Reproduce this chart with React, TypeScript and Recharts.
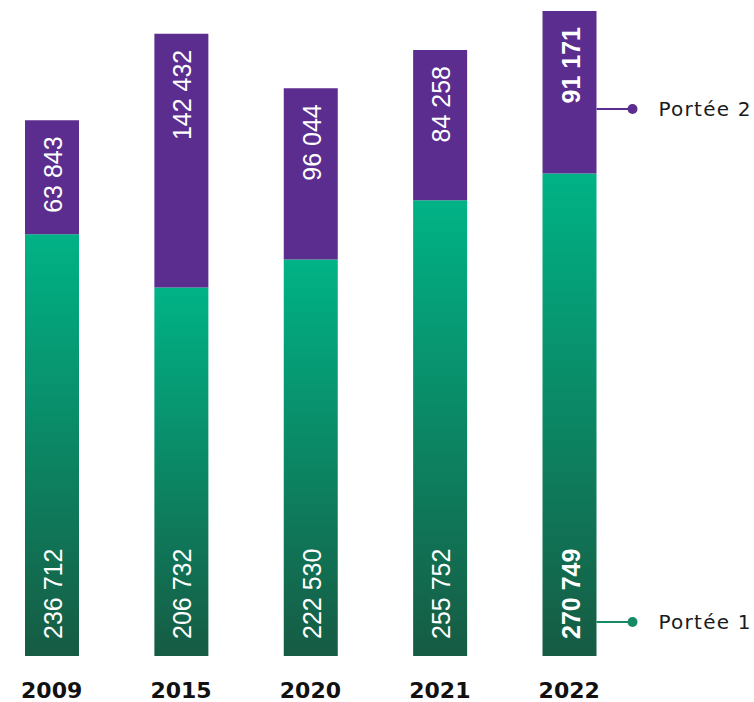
import React from 'react';
import { BarChart, Bar, XAxis, YAxis, LabelList } from 'recharts';

const years = ['2009', '2015', '2020', '2021', '2022'];
const portee1 = [236712, 206732, 222530, 255752, 270749];
const portee2 = [63843, 142432, 96044, 84258, 91171];
const seriesNames = ['Portée 1', 'Portée 2'];

const data = years.map((y, i) => ({ year: y, p1: portee1[i], p2: portee2[i] }));

const PURPLE = '#5b2d8e';
const GREEN_TOP = '#00b386';
const GREEN_BOTTOM = '#165b43';
const LEGEND_GREEN = '#158a64';
const last = years.length - 1;

const fmt = (v: number) => String(v).replace(/\B(?=(\d{3})+(?!\d))/g, ' ');

const LegendMark = ({ x, y, color, text }: any) => (
  <g>
    <line x1={x} y1={y} x2={x + 36} y2={y} stroke={color} strokeWidth={2} />
    <circle cx={x + 36} cy={y} r={5} fill={color} />
    <text
      x={x + 62}
      y={y + 7}
      fill="#1a1a1a"
      fontFamily="DejaVu Sans"
      fontSize={20}
      letterSpacing={1.25}
    >
      {text}
    </text>
  </g>
);

const TopLabel = (props: any) => {
  const { x, y, width, index } = props;
  const cx = x + width / 2;
  const ty = y + 16;
  const bold = index === last;
  return (
    <g>
      <text
        x={cx + 10}
        y={ty}
        transform={`rotate(-90, ${cx + 10}, ${ty})`}
        textAnchor="end"
        fill="#ffffff"
        fontFamily="Liberation Sans"
        fontWeight={bold ? 'bold' : 'normal'}
        fontSize={25}
      >
        {fmt(portee2[index])}
      </text>
      {index === last && <LegendMark x={x + width} y={y + 98} color={PURPLE} text={seriesNames[1]} />}
    </g>
  );
};

const BottomLabel = (props: any) => {
  const { x, y, width, height, index } = props;
  const cx = x + width / 2;
  const bottom = y + height;
  const ty = bottom - 17;
  const bold = index === last;
  return (
    <g>
      <text
        x={cx + 10}
        y={ty}
        transform={`rotate(-90, ${cx + 10}, ${ty})`}
        textAnchor="start"
        fill="#ffffff"
        fontFamily="Liberation Sans"
        fontWeight={bold ? 'bold' : 'normal'}
        fontSize={25}
      >
        {fmt(portee1[index])}
      </text>
      {index === last && <LegendMark x={x + width} y={bottom - 34} color={LEGEND_GREEN} text={seriesNames[0]} />}
    </g>
  );
};

const YearTick = (props: any) => {
  const { x, y, payload } = props;
  return (
    <text
      x={x}
      y={y + 42}
      textAnchor="middle"
      fill="#111111"
      fontFamily="DejaVu Sans"
      fontWeight="bold"
      fontSize={22}
    >
      {payload.value}
    </text>
  );
};

export default function App() {
  const shift = 12.6875;
  return (
    <div style={{ position: 'absolute', left: -shift, top: 0 }}>
      <BarChart
        width={754 + shift}
        height={702}
        data={data}
        margin={{ top: 11, right: 119.8, bottom: 0, left: 0 }}
        barSize={54}
      >
        <defs>
          <linearGradient id="greenGrad" x1="0" y1="0" x2="0" y2="1">
            <stop offset="0" stopColor={GREEN_TOP} />
            <stop offset="1" stopColor={GREEN_BOTTOM} />
          </linearGradient>
        </defs>
        <XAxis
          dataKey="year"
          axisLine={false}
          tickLine={false}
          tickSize={0}
          tickMargin={0}
          height={46}
          interval={0}
          tick={<YearTick />}
        />
        <YAxis hide domain={[0, 'dataMax']} />
        <Bar dataKey="p1" stackId="a" fill="url(#greenGrad)" isAnimationActive={false}>
          <LabelList dataKey="p1" content={<BottomLabel />} />
        </Bar>
        <Bar dataKey="p2" stackId="a" fill={PURPLE} isAnimationActive={false}>
          <LabelList dataKey="p2" content={<TopLabel />} />
        </Bar>
      </BarChart>
    </div>
  );
}
